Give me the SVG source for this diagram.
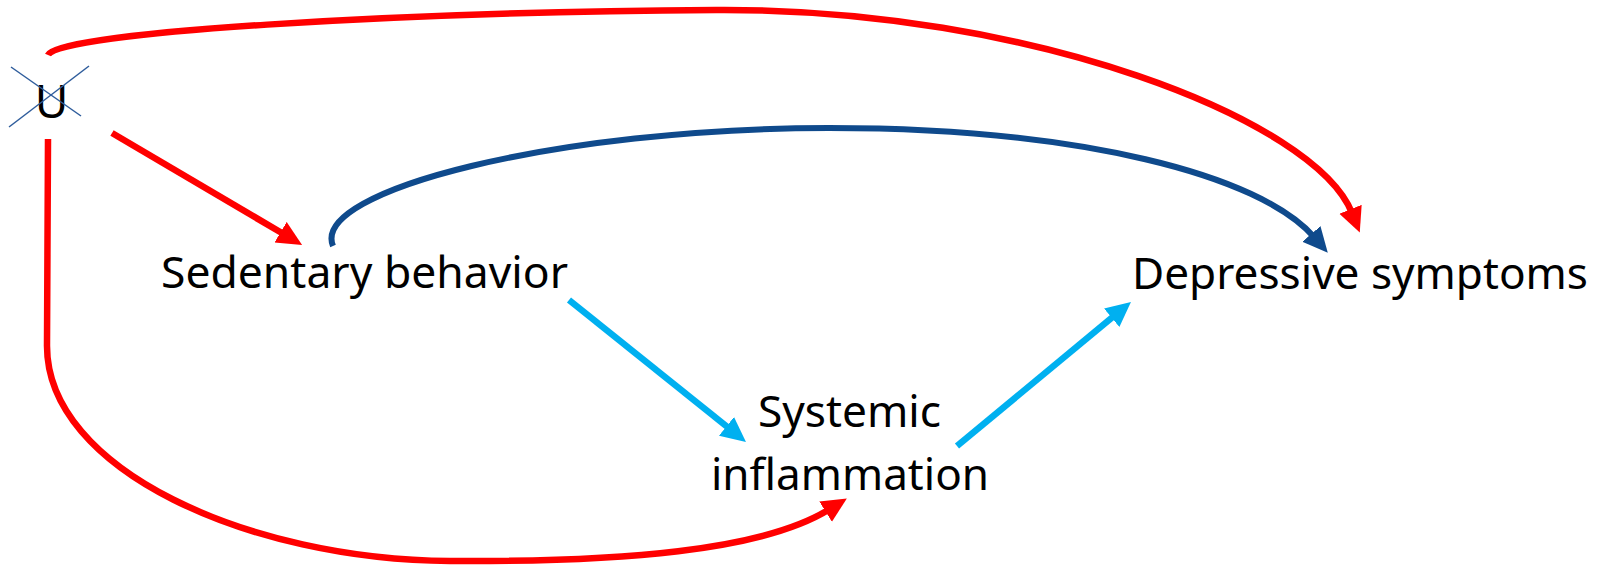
<svg xmlns="http://www.w3.org/2000/svg" width="1604" height="566" viewBox="0 0 1604 566">
<style>
.lbl{font-family:"Noto Sans","Open Sans","Liberation Sans",sans-serif;font-size:44px;fill:#000}
.c{fill:none;stroke-linecap:butt}
.red{stroke:#FF0000;stroke-width:6.5}
.blue{stroke:#0F4A8C;stroke-width:6}
.cyan{stroke:#00B0F0;stroke-width:6.5}
.x{stroke:#2F5D9C;stroke-width:1.5}
</style>
<defs>
<marker id="mr" markerUnits="userSpaceOnUse" markerWidth="28" markerHeight="26" refX="4" refY="12" orient="auto"><path d="M0,0 L25,12 L0,24 z" fill="#FF0000"/></marker>
<marker id="mb" markerUnits="userSpaceOnUse" markerWidth="28" markerHeight="26" refX="4" refY="12" orient="auto"><path d="M0,0 L25,12 L0,24 z" fill="#0F4A8C"/></marker>
<marker id="mc" markerUnits="userSpaceOnUse" markerWidth="28" markerHeight="26" refX="4" refY="12" orient="auto"><path d="M0,0 L25,12 L0,24 z" fill="#00B0F0"/></marker>
</defs>
<g id="connectors">
<path class="c red" d="M48,55 C58,32 400,12 716,10 C1030,8 1315,120 1352,213" marker-end="url(#mr)"/>
<path class="c red" d="M112,133 L284,234.3" marker-end="url(#mr)"/>
<path class="c red" d="M48,139 L47,345 C46,470 250,560 450,561 C620,562 762,551 829,509.5" marker-end="url(#mr)"/>
<path class="c blue" d="M333,246 C310,190 560,128 829,128 C1080,128 1260,175 1314,237" marker-end="url(#mb)"/>
<path class="c cyan" d="M569,300 L729.6,428.8" marker-end="url(#mc)"/>
<path class="c cyan" d="M957,446 L1114.8,315.3" marker-end="url(#mc)"/>
</g>
<g id="node-U">
<text class="lbl" x="51.5" y="118" text-anchor="middle" style="font-size:46px">U</text>
<line class="x" x1="11" y1="67" x2="81" y2="116"/>
<line class="x" x1="89" y1="66" x2="9" y2="127"/>
</g>
<g id="node-sedentary">
<text class="lbl" x="161" y="288" textLength="407" lengthAdjust="spacingAndGlyphs">Sedentary behavior</text>
</g>
<g id="node-depressive">
<text class="lbl" x="1132" y="289" textLength="456" lengthAdjust="spacingAndGlyphs">Depressive symptoms</text>
</g>
<g id="node-inflammation">
<text class="lbl" x="758" y="427" textLength="183" lengthAdjust="spacingAndGlyphs">Systemic</text>
<text class="lbl" x="711" y="490" textLength="278" lengthAdjust="spacingAndGlyphs">inflammation</text>
</g>
</svg>
